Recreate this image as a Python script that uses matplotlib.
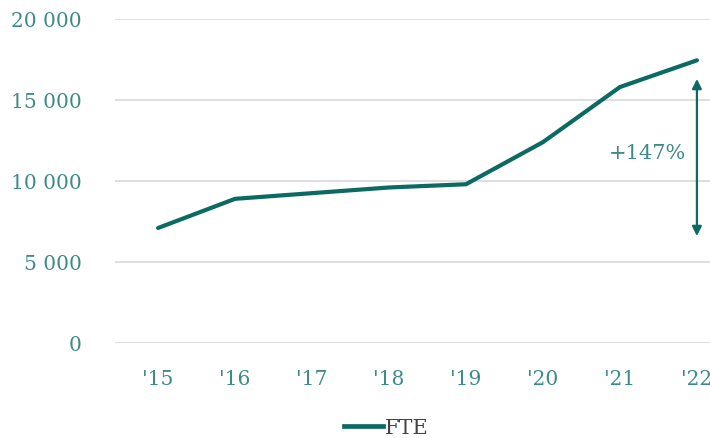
import matplotlib
matplotlib.use("Agg")
import matplotlib.pyplot as plt
from matplotlib.lines import Line2D

years = ["'15", "'16", "'17", "'18", "'19", "'20", "'21", "'22"]
fte = [7100, 8900, 9250, 9600, 9800, 12400, 15800, 17450]
yticks = [0, 5000, 10000, 15000, 20000]
ytick_labels = ["0", "5 000", "10 000", "15 000", "20 000"]
growth_label = "+147%"
arrow_top, arrow_bottom = 16300, 6600

teal = "#0b6b63"
tick_color = "#3d8b88"

plt.rcParams['font.family'] = ['DejaVu Serif']
fig = plt.figure(figsize=(7.10, 4.39), dpi=100)
ax = fig.add_axes([115/710, 1-344/439, 1-115/710, (344-20)/439])

x = list(range(len(years)))
ax.plot(x, fte, color=teal, lw=3.0, solid_capstyle='round', solid_joinstyle='round', zorder=3)

ax.set_xlim(-0.56, 7.17)
ax.set_ylim(0, 20000)
ax.set_yticks(yticks)
ax.set_yticklabels(ytick_labels)
ax.set_xticks(x)
ax.set_xticklabels(years)
ax.grid(axis='y', color='#dcdcdc', lw=1.3)
ax.set_axisbelow(True)
for s in ax.spines.values():
    s.set_visible(False)
ax.tick_params(axis='both', length=0, colors=tick_color, labelsize=14.5)
ax.tick_params(axis='y', pad=24)
ax.tick_params(axis='x', pad=19)

ax.annotate("", xy=(7, arrow_top), xytext=(7, arrow_bottom),
            arrowprops=dict(arrowstyle='<|-|>', color=teal, lw=1.6,
                            mutation_scale=14, shrinkA=0, shrinkB=0))
ax.text(6.35, (arrow_top + arrow_bottom) / 2 + 300, growth_label, color=tick_color,
        fontsize=15, ha='center', va='center')

handle = Line2D([0], [0], color=teal, lw=3.4)
fig.legend([handle], ["FTE"], loc='center', bbox_to_anchor=(386/710, 1-429/439),
           frameon=False, fontsize=15, handlelength=1.9, handletextpad=0.05,
           labelcolor='#444444')

fig.savefig("out.png", dpi=100)
